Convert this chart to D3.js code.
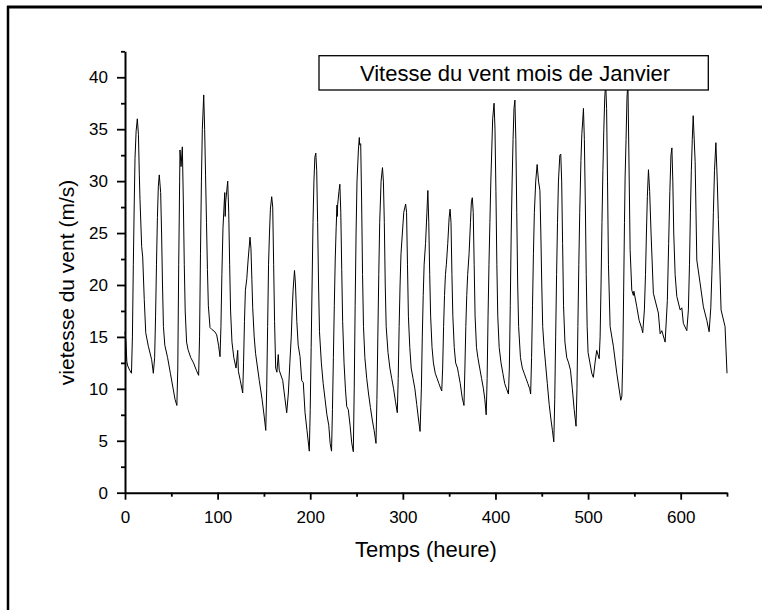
<!DOCTYPE html>
<html><head><meta charset="utf-8">
<script src="https://cdn.jsdelivr.net/npm/d3@7"></script>
<style>body{margin:0;background:#fff} svg{display:block}</style>
</head><body>
<script>
// ---- data ----
const hours = [
0,1,2,3,5,7,8,9,10,10.8,12,13.3,14.5,15.5,16.2,18,19.1,20.8,22.4,25.2,28.8,30.6,
32,33,34,35,36,37,38.5,39.5,40.5,41.5,43,46,49,52,54,56,
57,58,59,59.4,60.5,61.9,63,64,65,66.5,68,71,74,77,79.5,
80.5,81.5,82.5,83.5,85,86,87,88,89,90,91.8,94,97,99,101,102.6,
103.6,104.6,105.8,107.7,108.2,108.7,110.9,112,113,114,115.5,117.5,119.9,121.7,122.4,124.5,127.1,
128,129,130,131.5,133,135,136,137,137.9,139.5,141,145,148,150.5,152,
153,154,155,156,157,158.4,159.5,160.5,161.5,162.7,164,165.5,166.5,170.3,172.5,174.6,
176.4,178,179.5,180.5,181.5,183,184,185.5,187,189,190.8,192.5,194.4,196.5,199,
200,201,202,203,204,205,206,207,208,209,210,212,214,216,218,220,221.5,223,
224,225,226,227,228,228.9,229.2,229.6,231,232,233,234,235,236.5,238,239.4,241.1,243,244.8,246.5,
247.5,248.5,249.5,250.5,252,253,253.3,254.5,255.5,256.5,257.5,259,261,263,265,267,269,271,
272,273,274,275,276.5,278,279,280,281,282,284,286,288,290,292,294,
295,296,297,298,299.5,301,303,304,305,306,307.5,309,311,313,315,317,318.6,
320,321,322,323,324.5,326,327,328,329,330,331.5,333,335,337,339,341,342,
343,344,345,346,347,348.5,350,351,352,353,354,355.5,357,359,360,362,364,366,
367,368,369,370,371.5,373,374,375,376,377,378,379.5,381,383,385,387,388.5,390,
391,392,393,394,395,396,397,398.5,399.5,400.5,401.5,402.5,404,406,408,410,412,414,
415,416,417,418,419,420,421,422,423,424,425,427,429,431,433,435,437,438,
439,440,441,442,443.5,445,446.5,448,449,450,451,452.5,454,456,458,460,461.5,463,
464,465,466,467,468,469.5,470.5,471.5,472.5,473.5,475,477,479,481,483,485,487,
488,489,490,491,492.3,493.3,494,495,496,497,498,499,500,502,504,505.7,507.5,509.3,512,
513,514,515,516,517,518,519,520,521,522,523.8,527.3,531,535.3,536.5,537.5,538.5,539.3,540,541,542,543,
544,545.4,547.2,548.9,549.5,552.6,555.1,558,559,560.8,562,563,564,565.2,566.5,568,570.5,575.9,577.8,579.6,583.2,
585.6,587,588.3,589.5,590.5,591.5,592.5,594,595.8,599.4,601.2,602.9,606.6,608.3,609.5,610.5,611.5,612.5,613.5,
615.6,617.4,620.9,624.5,628.2,630.7,632.5,634,635.3,636.5,638,639.5,640.7,643.6,647.9,650
];
const speed = [
15.5,14.5,12.6,12.2,11.8,11.5,15,22,28,32.2,34.8,36.0,34.5,30.5,28.2,23.7,22.7,18.6,15.4,14.1,12.8,11.5,
13,17,22,26.5,29.5,30.6,28.9,25,20,16,14.2,13,11.5,10,9,8.4,
12,22,30,33.0,31.4,33.3,28,22,17.5,14.5,13.8,13,12.5,11.8,11.3,
15,23,30,35,38.3,35,30.5,26,21.5,18,15.9,15.7,15.5,15.2,14.2,13.1,
16,21,25.5,28.9,26.6,28,30.0,27,22,17.5,14.5,13,12.0,13.7,11.7,10.8,9.6,
12.5,16.5,19.5,20.6,22.5,24.6,23.5,20.5,17.8,15,13.4,10.8,9,7.2,6.0,
10,16,22,25,27.3,28.5,27.5,22,16.5,12.0,11.6,13.3,11.8,10.8,9.2,7.7,
9.6,12.5,15,17.5,19.5,21.4,20.2,16.5,14.2,13.1,10.8,10.6,7.7,6.0,4.0,
8,14,20,26,30,32.3,32.7,31,26,20,15.5,12.5,10.5,9,7.5,6.5,4.75,4.0,
8,13,18,22.5,25.5,27.7,26.6,27.7,29,29.7,27,21.5,16.5,12.5,10,8.3,8.0,6.5,4.8,3.95,
10,18,25,30,33,34.2,33.5,33.6,28,21,16,13,11,9.5,8.2,7,6,4.75,
9,15,21,26,30,31.3,30,26,20,16,13.5,12,11,10,8.8,7.7,
11,16,20,23,25,27,27.8,27,22,17,14,12,11,10,8.5,7,5.9,
10,15,19,22,24,27,29.1,26,21,17,14,12.5,11.5,11,10.5,10,9.8,
12,16,19,21,22,24,26.5,27.3,26,21,17,14,12.5,12,11.5,10.5,9.2,8.4,
12,16,19,21,23,26,28,28.4,27,22,17,14,13,12,11,10,9,7.5,
11,17,22,26,30,33,36,37.5,35,29,22,17,14,12.5,11.5,10.5,10,9.5,
12,18,25,30,34,37,37.8,34,27,20,16,13,12,11.5,11,10.5,10,9.5,
13,18,23,27,30,31.6,30,29.1,25,20,16,14,12.5,10.5,8.5,7,6,4.9,
9,15,21,26,30,32.5,32.6,30,24,18,14.5,13,12.5,11.8,10,8,6.4,
10,16,22,27,32,34.6,35.5,37.0,34,28,21,16,13.5,12.5,11.5,11.1,12.5,13.7,12.9,
15,20,26,31,35,38,39.5,37,30,22,16.0,14.1,11.5,8.9,9.3,13,20,26,30.4,34,38,39.5,
33,23.4,19.5,19.0,19.4,17.9,16.6,15.8,15.4,17.6,21,25,28.5,31.1,29,25,19.2,17.3,15.3,15.6,14.5,
18.5,24,29,32.5,33.2,30,25,21,18.9,17.6,17.8,16.3,15.6,17.6,22,27,31,34,36.3,
31.9,22.4,20.2,17.9,16.6,15.5,17.8,22,27,31,33.7,30,26.3,17.6,16.0,11.5
];
const xTickValues = [0,100,200,300,400,500,600];
const xMinorTicks = [50,150,250,350,450,550,650];
const yTickValues = [0,5,10,15,20,25,30,35,40];
const yMinorTicks = [2.5,7.5,12.5,17.5,22.5,27.5,32.5,37.5,42.5];
const chartTitle = "Vitesse du vent mois de Janvier";
const xLabel = "Temps (heure)";
const yLabel = "vietesse du vent (m/s)";

const data = hours.map((h,i)=>({h, v: speed[i]}));
const FONT = "'Liberation Sans', Arial, Helvetica, sans-serif";
const W = 762, H = 610;
const svg = d3.select("body").append("svg").attr("width", W).attr("height", H)
  .style("font-family", FONT);

// outer frame (top and left edges visible)
svg.append("line").attr("x1",7).attr("y1",7).attr("x2",W).attr("y2",7)
  .attr("stroke","#000").attr("stroke-width",3);
svg.append("line").attr("x1",8).attr("y1",6).attr("x2",8).attr("y2",H)
  .attr("stroke","#000").attr("stroke-width",2.5);

const x = d3.scaleLinear().domain([0,650]).range([125,727]);
const y = d3.scaleLinear().domain([0,42.5]).range([492.7,51.3]);

// data line
svg.append("path").datum(data)
  .attr("fill","none").attr("stroke","#000").attr("stroke-width",1)
  .attr("stroke-linejoin","round")
  .attr("d", d3.line().x(d=>x(d.h)).y(d=>y(d.v)));

// x axis
const gx = svg.append("g").attr("transform","translate(0,492.7)");
gx.call(d3.axisBottom(x).tickValues(xMinorTicks).tickSize(4).tickSizeOuter(0).tickFormat(""));
gx.call(g=>g.select(".domain").remove());
const gx2 = svg.append("g").attr("transform","translate(0,492.7)");
gx2.call(d3.axisBottom(x).tickValues(xTickValues).tickSize(7).tickSizeOuter(0).tickPadding(11)
  .tickFormat(d3.format("d")));
// y axis
const gy = svg.append("g").attr("transform","translate(125,0)");
gy.call(d3.axisLeft(y).tickValues(yMinorTicks).tickSize(4).tickSizeOuter(0).tickFormat(""));
gy.call(g=>g.select(".domain").remove());
const gy2 = svg.append("g").attr("transform","translate(125,0)");
gy2.call(d3.axisLeft(y).tickValues(yTickValues).tickSize(8).tickSizeOuter(0).tickPadding(9)
  .tickFormat(d3.format("d")));

svg.selectAll(".domain").attr("stroke","#000").attr("stroke-width",2);
svg.selectAll(".tick line").attr("stroke","#000").attr("stroke-width",1.8);
svg.selectAll(".tick text").attr("fill","#000").style("font-size","17px").style("font-family",FONT);

// axis titles
svg.append("text").attr("x",426).attr("y",557.3).attr("text-anchor","middle")
  .style("font-size","22px").text(xLabel);
svg.append("text").attr("transform","translate(74,282.5) rotate(-90)").attr("text-anchor","middle")
  .style("font-size","21px").text(yLabel);

// title box
svg.append("rect").attr("x",319).attr("y",55.7).attr("width",389.3).attr("height",34.3)
  .attr("fill","#fff").attr("stroke","#000").attr("stroke-width",1.3);
svg.append("text").attr("x",515).attr("y",80.7).attr("text-anchor","middle")
  .style("font-size","22px").text(chartTitle);
</script>
</body></html>
